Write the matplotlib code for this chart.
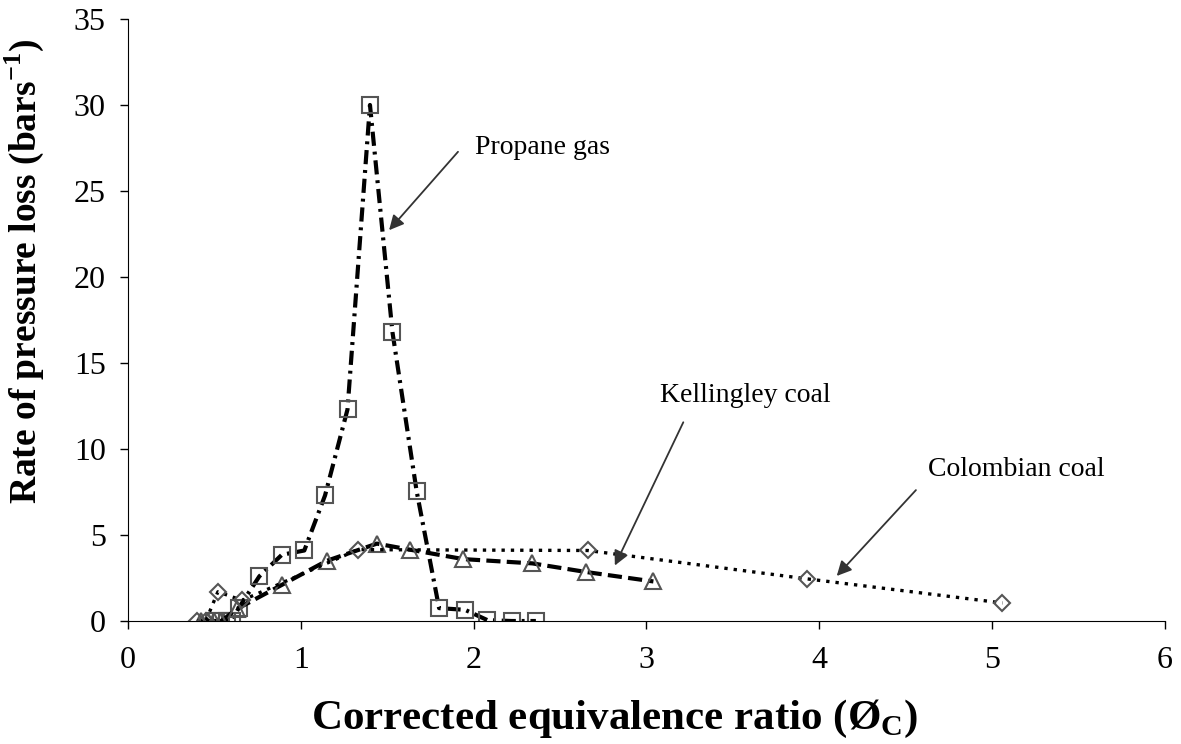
import matplotlib.pyplot as plt
import numpy as np

plt.rcParams['font.family'] = ['Liberation Serif', 'DejaVu Serif']

# propane gas (squares)
propane_x = [0.50, 0.54, 0.57, 0.60, 0.64, 0.76, 0.89, 1.02, 1.14, 1.27, 1.40,
             1.53, 1.67, 1.80, 1.95, 2.08, 2.22, 2.36]
propane_y = [0.0, 0.0, 0.0, 0.0, 0.75, 2.6, 3.85, 4.1, 7.3, 12.3, 30.0,
             16.8, 7.55, 0.75, 0.65, 0.05, 0.0, 0.0]

# Kellingley coal (triangles)
kell_x = [0.42, 0.46, 0.50, 0.54, 0.63, 0.89, 1.15, 1.44, 1.63, 1.94, 2.34, 2.65, 3.04]
kell_y = [0.0, 0.0, 0.0, 0.0, 0.7, 2.1, 3.5, 4.5, 4.15, 3.6, 3.35, 2.85, 2.3]

# Colombian coal (diamonds)
col_x = [0.40, 0.45, 0.52, 0.66, 1.33, 2.66, 3.93, 5.06]
col_y = [0.0, 0.0, 1.7, 1.2, 4.15, 4.1, 2.45, 1.05]

xticks = [0, 1, 2, 3, 4, 5, 6]
yticks = [0, 5, 10, 15, 20, 25, 30, 35]

fig = plt.figure(figsize=(11.81, 7.44), dpi=100)
ax = fig.add_axes([0.1084, 0.1653, 0.878, 0.8092])

edge = '#555555'
ax.plot(propane_x, propane_y, color='black', lw=3, ls=(0, (3.4, 1.4, 0.7, 1.4)),
        marker='s', ms=11, mfc='none', mec=edge, mew=1.5)
ax.plot(kell_x, kell_y, color='black', lw=3, ls=(0, (3.4, 1.5)),
        marker='^', ms=12, mfc='none', mec=edge, mew=1.5)
ax.plot(col_x, col_y, color='black', lw=2.4, ls=(0, (1, 1.8)),
        marker='D', ms=8, mfc='none', mec=edge, mew=1.5)

ax.set_xlim(0, 6)
ax.set_ylim(0, 35)
ax.set_xticks(xticks)
ax.set_yticks(yticks)
ax.spines['top'].set_visible(False)
ax.spines['right'].set_visible(False)
ax.tick_params(direction='out', length=6, width=1, labelsize=23)
ax.tick_params(axis='x', pad=12)
ax.tick_params(axis='y', pad=10)

ax.set_xlabel('Corrected equivalence ratio (Ø$_\\mathregular{C}$)', fontsize=31,
              fontweight='bold')
ax.set_ylabel('Rate of pressure loss (bars$^\\mathregular{-1}$)', fontsize=27,
              fontweight='bold')
ax.xaxis.set_label_coords(0.469, -0.128)
ax.yaxis.set_label_coords(-0.079, 0.58)

arrow = dict(arrowstyle='-|>', color='#333333', lw=1.3, mutation_scale=22)
ax.annotate('', xy=(1.50, 22.6), xytext=(1.92, 27.4), arrowprops=arrow)
ax.annotate('', xy=(2.81, 3.08), xytext=(3.22, 11.7), arrowprops=arrow)
ax.annotate('', xy=(4.09, 2.5), xytext=(4.57, 7.73), arrowprops=arrow)

ax.text(2.01, 27.5, 'Propane gas', fontsize=20, va='center', ha='left')
ax.text(3.08, 13.1, 'Kellingley coal', fontsize=20, va='center', ha='left')
ax.text(4.63, 8.8, 'Colombian coal', fontsize=20, va='center', ha='left')

fig.savefig('out.png', dpi=100)
